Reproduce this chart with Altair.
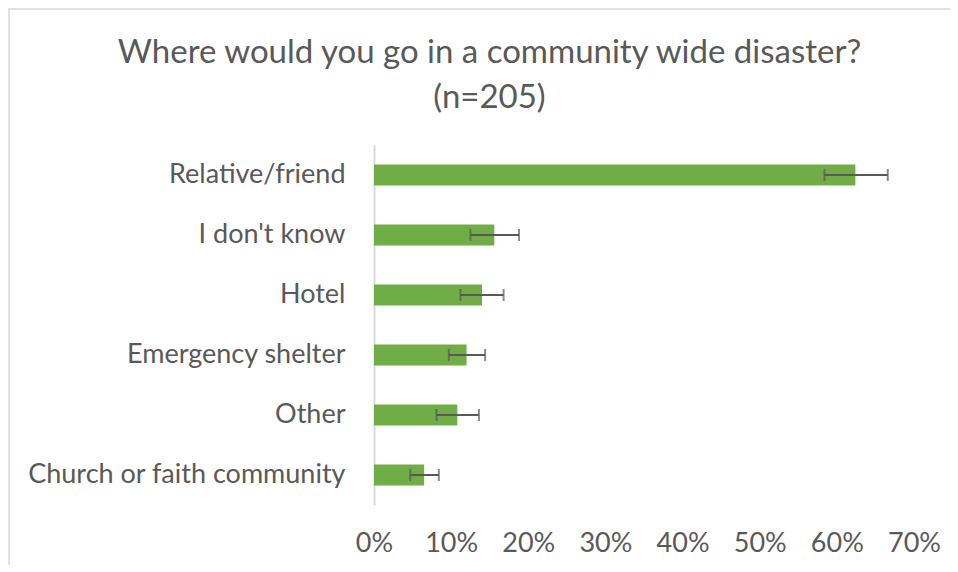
import altair as alt
import pandas as pd

categories = ["Relative/friend", "I don't know", "Hotel", "Emergency shelter", "Other", "Church or faith community"]
values = [0.624, 0.156, 0.140, 0.120, 0.108, 0.065]
ci_low = [0.584, 0.125, 0.112, 0.097, 0.081, 0.047]
ci_high = [0.666, 0.188, 0.168, 0.144, 0.136, 0.084]
x_ticks = [0, 0.1, 0.2, 0.3, 0.4, 0.5, 0.6, 0.7]

df = pd.DataFrame({"cat": categories, "val": values, "lo": ci_low, "hi": ci_high})

FONT = "Lato"
TXT = "#595959"
LBL = 27

y_enc = alt.Y("cat:N", sort=categories, title=None,
              axis=alt.Axis(domainColor="#D9D9D9", domainWidth=2, ticks=False,
                            labelPadding=29, labelFontSize=LBL, labelColor=TXT,
                            labelFont=FONT, labelLimit=500))
x_scale = alt.Scale(domain=[0, 0.7])

bars = alt.Chart(df).mark_bar(size=21, color="#70AD47").encode(
    x=alt.X("val:Q", scale=x_scale, title=None,
            axis=alt.Axis(format=".0%", values=x_ticks, grid=False, domain=False,
                          ticks=False, labelPadding=25, labelFontSize=LBL,
                          labelColor=TXT, labelFont=FONT, labelFlush=False)),
    y=y_enc,
)

err = alt.Chart(df).mark_rule(color="#595959", strokeWidth=2).encode(
    x=alt.X("lo:Q", scale=x_scale), x2="hi:Q", y=alt.Y("cat:N", sort=categories)
)
cap_lo = alt.Chart(df).mark_tick(color="#595959", thickness=2, size=12, orient="vertical").encode(
    x=alt.X("lo:Q", scale=x_scale), y=alt.Y("cat:N", sort=categories)
)
cap_hi = alt.Chart(df).mark_tick(color="#595959", thickness=2, size=12, orient="vertical").encode(
    x=alt.X("hi:Q", scale=x_scale), y=alt.Y("cat:N", sort=categories)
)

frame = alt.Chart(pd.DataFrame({"a": [0]})).mark_rect(
    fill=None, stroke="#D9D9D9", strokeWidth=1.5
).encode(
    x=alt.value(-365), x2=alt.value(600), y=alt.value(-136), y2=alt.value(440)
)

chart = alt.layer(frame, bars, err, cap_lo, cap_hi).properties(
    width=540, height=360,
    title=alt.TitleParams(
        text=["Where would you go in a community wide disaster?", "(n=205)"],
        fontSize=33, lineHeight=45, color=TXT, font=FONT, fontWeight="normal",
        anchor="middle", frame="bounds", dx=-2, offset=-107,
    ),
    autosize=alt.AutoSizeParams(type="none"),
    padding={"left": 366, "top": 137, "right": 36, "bottom": 60},
).configure_view(stroke=None)

chart.save("out.html", embed_options={"renderer": "svg", "actions": False})
